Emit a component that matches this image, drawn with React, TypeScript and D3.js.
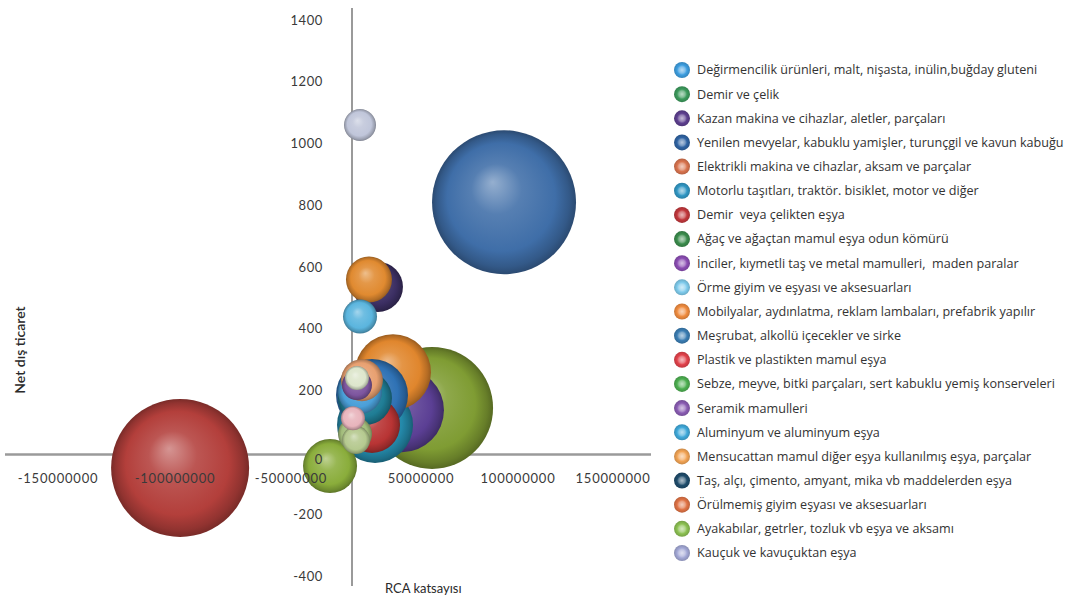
import { useEffect, useRef } from "react";
import * as d3 from "d3";

// Legend order
const categories = [
  "Değirmencilik ürünleri, malt, nişasta, inülin,buğday gluteni",
  "Demir ve çelik",
  "Kazan makina ve cihazlar, aletler, parçaları",
  "Yenilen mevyelar, kabuklu yamişler, turunçgil ve kavun kabuğu",
  "Elektrikli makina ve cihazlar, aksam ve parçalar",
  "Motorlu taşıtları, traktör. bisiklet, motor ve diğer",
  "Demir  veya çelikten eşya",
  "Ağaç ve ağaçtan mamul eşya odun kömürü",
  "İnciler, kıymetli taş ve metal mamulleri,  maden paralar",
  "Örme giyim ve eşyası ve aksesuarları",
  "Mobilyalar, aydınlatma, reklam lambaları, prefabrik yapılır",
  "Meşrubat, alkollü içecekler ve sirke",
  "Plastik ve plastikten mamul eşya",
  "Sebze, meyve, bitki parçaları, sert kabuklu yemiş konserveleri",
  "Seramik mamulleri",
  "Aluminyum ve aluminyum eşya",
  "Mensucattan mamul diğer eşya kullanılmış eşya, parçalar",
  "Taş, alçı, çimento, amyant, mika vb maddelerden eşya",
  "Örülmemiş giyim eşyası ve aksesuarları",
  "Ayakabılar, getrler, tozluk vb eşya ve aksamı",
  "Kauçuk ve kavuçuktan eşya",
];

const legendColors = [
  "#3d9ee0", "#3c9a5c", "#5d3f8f", "#2f63a3", "#d9744f", "#3197c4", "#c2373c",
  "#3a8c4c", "#8b4db3", "#7fcbec", "#f08c3f", "#3b7db3", "#e2424b", "#4caf50",
  "#8a5cb3", "#3fa9da", "#f2a455", "#1f4c6b", "#e07345", "#8cc152", "#a3a8d6",
];

const bubbleColors = [
  "#4a9fd8", "#b5c98f", "#5b3f94", "#3f6ea8", "#e8b4bc", "#2489aa", "#b33f3b",
  "#a3bd7c", "#7d559e", "#dde6cc", "#e0862d", "#2f72b5", "#b83434", "#8aad3b",
  "#3c2f63", "#5bb5de", "#e08a30", "#1f7d95", "#e8a070", "#7f9c33", "#c0c6da",
];

// x: RCA katsayısı
const rcaValues = [
  5800000, 2900000, 36200000, 92800000, 700000, 16700000, -97800000,
  2200000, 3600000, 3600000, 29700000, 14500000, 14500000, -18000000,
  18800000, 5800000, 12300000, 9400000, 7200000, 55700000, 5800000,
];

// y: Net dış ticaret
const netTrade = [
  196, 40, 137, 810, 111, 89, -50,
  60, 218, 241, 260, 186, 89, -44,
  536, 440, 560, 176, 234, 144, 1060,
];

// bubble size
const bubbleSizes = [
  484, 196, 1764, 5184, 144, 1444, 4761,
  289, 225, 144, 1444, 1296, 784, 729,
  625, 289, 529, 729, 441, 3721, 256,
];

const xTickValues = [-150000000, -100000000, -50000000, 50000000, 100000000, 150000000];
const xTickSlots = [-150000000, -100000000, -50000000, 0, 50000000, 100000000, 150000000];
const yTickValues = [-400, -200, 0, 200, 400, 600, 800, 1000, 1200, 1400];

const FONT = "Lato, 'Open Sans', sans-serif";
const LEGEND_FONT = "'Open Sans', Lato, sans-serif";

export default function App() {
  const svgRef = useRef<SVGSVGElement>(null);

  useEffect(() => {
    if (!svgRef.current) return;
    const width = 1091;
    const height = 599;

    d3.select(svgRef.current).selectAll("*").remove();
    const svg = d3.select(svgRef.current).attr("width", width).attr("height", height);

    // Scales
    const x = d3
      .scaleLinear()
      .domain(xTickSlots)
      .range([58, 175, 291, 352, 421, 518, 613]);
    const y = d3.scaleLinear().domain([-400, 1400]).range([576, 20]);
    const r = d3.scaleSqrt().domain([0, 5184]).range([0, 72]);

    const defs = svg.append("defs");
    const mix = (c: string, t: number) => d3.interpolateRgb(c, "#ffffff")(t);
    const dark = (c: string, k: number) => d3.color(c)!.darker(k).formatHex();

    bubbleColors.forEach((c, i) => {
      const g = defs
        .append("radialGradient")
        .attr("id", `ball-${i}`)
        .attr("cx", "50%")
        .attr("cy", "50%")
        .attr("r", "50%")
        .attr("fx", "42%")
        .attr("fy", "36%");
      g.append("stop").attr("offset", "0%").attr("stop-color", mix(c, 0.45));
      g.append("stop").attr("offset", "35%").attr("stop-color", mix(c, 0.12));
      g.append("stop").attr("offset", "75%").attr("stop-color", c);
      g.append("stop").attr("offset", "92%").attr("stop-color", dark(c, 0.6));
      g.append("stop").attr("offset", "100%").attr("stop-color", dark(c, 1.1));
    });

    legendColors.forEach((c, i) => {
      const g = defs
        .append("radialGradient")
        .attr("id", `mark-${i}`)
        .attr("cx", "50%")
        .attr("cy", "50%")
        .attr("r", "50%");
      g.append("stop").attr("offset", "0%").attr("stop-color", mix(c, 0.65));
      g.append("stop").attr("offset", "40%").attr("stop-color", mix(c, 0.35));
      g.append("stop").attr("offset", "62%").attr("stop-color", c);
      g.append("stop").attr("offset", "100%").attr("stop-color", dark(c, 0.5));
    });

    // Axis lines (behind bubbles)
    svg
      .append("line")
      .attr("x1", x(0))
      .attr("x2", x(0))
      .attr("y1", 8)
      .attr("y2", 586)
      .attr("stroke", "#9a9a9a")
      .attr("stroke-width", 2);
    svg
      .append("line")
      .attr("x1", 5)
      .attr("x2", 651)
      .attr("y1", y(0) + 2)
      .attr("y2", y(0) + 2)
      .attr("stroke", "#9a9a9a")
      .attr("stroke-width", 2.5);

    // Bubbles, largest first
    const data = categories.map((name, i) => ({
      name,
      i,
      rca: rcaValues[i],
      net: netTrade[i],
      size: bubbleSizes[i],
    }));
    const order = [...data].sort((a, b) => b.size - a.size);

    svg
      .append("g")
      .selectAll("circle")
      .data(order)
      .join("circle")
      .attr("cx", (d) => x(d.rca))
      .attr("cy", (d) => y(d.net))
      .attr("r", (d) => r(d.size))
      .attr("fill", (d) => `url(#ball-${d.i})`);

    // Tick labels (on top of bubbles)
    svg
      .append("g")
      .selectAll("text")
      .data(yTickValues)
      .join("text")
      .attr("x", 323)
      .attr("y", (d) => y(d) + (d === 0 ? 7 : 0))
      .attr("dy", "0.35em")
      .attr("text-anchor", "end")
      .attr("font-family", FONT)
      .attr("font-size", 13)
      .attr("letter-spacing", 0.6)
      .attr("fill", "#3a3a3a")
      .text((d) => String(d));

    svg
      .append("g")
      .selectAll("text")
      .data(xTickValues)
      .join("text")
      .attr("x", (d) => x(d))
      .attr("y", 478)
      .attr("dy", "0.35em")
      .attr("text-anchor", "middle")
      .attr("font-family", FONT)
      .attr("font-size", 13)
      .attr("letter-spacing", 0.8)
      .attr("fill", "#3a3a3a")
      .text((d) => String(d));

    // Axis titles
    svg
      .append("text")
      .attr("transform", `translate(20,350) rotate(-90)`)
      .attr("text-anchor", "middle")
      .attr("dy", "0.35em")
      .attr("font-family", FONT)
      .attr("font-size", 14)
      .attr("font-weight", 600)
      .attr("fill", "#2a2a2a")
      .text("Net dış ticaret");

    svg
      .append("text")
      .attr("x", 385)
      .attr("y", 588)
      .attr("dy", "0.35em")
      .attr("font-family", FONT)
      .attr("font-size", 13)
      .attr("fill", "#2a2a2a")
      .text("RCA katsayısı");

    // Legend
    const legendY = d3
      .scalePoint<number>()
      .domain(d3.range(categories.length))
      .range([70, 553]);

    const item = svg
      .append("g")
      .selectAll("g")
      .data(data)
      .join("g")
      .attr("transform", (d) => `translate(0,${legendY(d.i)})`);

    item
      .append("circle")
      .attr("cx", 682)
      .attr("cy", 0)
      .attr("r", 8)
      .attr("fill", (d) => `url(#mark-${d.i})`);

    item
      .append("text")
      .attr("x", 697)
      .attr("y", 0)
      .attr("dy", "0.35em")
      .attr("font-family", LEGEND_FONT)
      .attr("font-size", 12.6)
      .attr("fill", "#333")
      .style("white-space", "pre")
      .text((d) => d.name);
  }, []);

  return (
    <div style={{ position: "absolute", left: 0, top: 0, background: "#fff" }}>
      <svg ref={svgRef} width={1091} height={599} style={{ display: "block" }} />
    </div>
  );
}
